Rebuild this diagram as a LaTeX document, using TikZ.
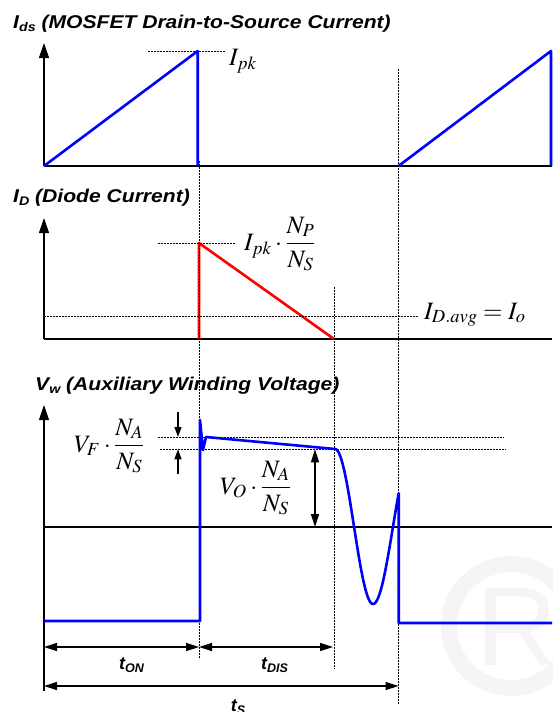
\documentclass[tikz,border=0pt]{standalone}
\usepackage{amsmath}
\usepackage{mathptmx}
\usepackage[no-math]{fontspec}
\setmainfont{Liberation Sans}
\newfontfamily\ttlfont[FakeStretch=1.14]{Liberation Sans}
\usetikzlibrary{arrows.meta}

\newcommand{\lowtxt}[1]{\raisebox{-3.5pt}{\fontsize{12.5}{12.5}\selectfont #1}}

\begin{document}
\begin{tikzpicture}[x=1pt, y=-1pt,
  axisline/.style={line width=1.2pt, -{Triangle[length=15pt,width=10pt]}},
  zeroline/.style={line width=1.2pt},
  guide/.style={line width=1pt, dash pattern=on 1.6pt off 1.4pt},
  wave/.style={line width=2.6pt, blue, line join=round},
  dwave/.style={line width=2.6pt, red, line join=round},
  dimline/.style={line width=1.2pt, {Triangle[length=13pt,width=8pt]}-{Triangle[length=13pt,width=8pt]}},
  vfarrow/.style={line width=1.2pt, -{Triangle[length=10pt,width=7pt]}},
  ttl/.style={anchor=base west, inner sep=0, font=\ttlfont\fontsize{18.5}{20}\selectfont\bfseries\itshape},
  lbl/.style={anchor=base west, inner sep=0, font=\fontsize{25}{28}\selectfont},
  tlbl/.style={anchor=base, inner sep=0, font=\fontsize{18}{20}\selectfont\bfseries\itshape}]
  \useasboundingbox (0,0) rectangle (552,712);
  \fill[white] (0,0) rectangle (552,712);

  % watermark
  \draw[black!4, line width=16pt] (511,626) circle[radius=62pt];
  \node[text=black!4, font=\fontsize{112}{112}\selectfont] (wmR) at (517,627) {R};

  % titles
  \node[ttl] (ttlA) at (13,28) {I\lowtxt{ds} (MOSFET Drain-to-Source Current)};
  \node[ttl] (ttlB) at (13,202) {I\lowtxt{D} (Diode Current)};
  \node[ttl] (ttlC) at (35,390) {V\lowtxt{w} (Auxiliary Winding Voltage)};

  % axes
  \draw[axisline] (44,166) -- (44,43);
  \draw[zeroline] (44,166) -- (552,166);
  \draw[axisline] (44,339) -- (44,218);
  \draw[zeroline] (44,339) -- (552,339);
  \draw[axisline] (44,691) -- (44,405);
  \draw[zeroline] (44,527) -- (552,527);

  % diode current
  \draw[dwave] (199,339) -- (199,243) -- (334,339);

  % guides
  \draw[guide] (148,51) -- (225,51);
  \draw[guide] (158,243) -- (235,243);
  \draw[guide] (44,316) -- (418,316);
  \draw[guide] (158,437) -- (504,437);
  \draw[guide] (160,449.3) -- (506,449.3);
  \draw[guide] (199,161) -- (199,659);
  \draw[guide] (334,287) -- (334,669);
  \draw[guide] (398.5,69) -- (398.5,704);

  % drain current
  \draw[wave] (44,166) -- (197.7,51) -- (197.7,166);
  \draw[wave] (398.5,166) -- (551,51) -- (551,166);

  % winding voltage
  \draw[wave] (44,621) -- (200,621) -- (200,420) -- (203,450) -- (206,437) -- (335,449)
    -- plot[domain=335:373, samples=40] (\x, {526.5-77.5*cos(180*(\x-335)/38)})
    -- plot[domain=373:398.7, samples=30] (\x, {526.6+77.4*cos(180*(\x-373)/40)})
    -- (398.7,623) -- (552,623);

  % labels
  \node[lbl] (ipk) at (229,65) {$I_{pk}$};
  \node[lbl] (ipkn) at (244,250) {$\displaystyle I_{pk}\cdot\frac{N_P}{N_S}$};
  \node[lbl] (idavg) at (424,319) {$I_{D.avg}=I_o$};
  \node[lbl] (vfn) at (74,452) {$\displaystyle V_F\cdot\frac{N_A}{N_S}$};
  \node[lbl] (von) at (220,494) {$\displaystyle V_O\cdot\frac{N_A}{N_S}$};

  % V_F marks
  \coordinate (vfa) at (178,412);
  \coordinate (vfb) at (178,437);
  \coordinate (vfc) at (178,474);
  \coordinate (vfd) at (178,449.3);
  \draw[vfarrow] (vfa) -- (vfb);
  \draw[vfarrow] (vfc) -- (vfd);

  % V_O span
  \coordinate (voa) at (315,449.3);
  \coordinate (vob) at (315,527);
  \draw[dimline] (voa) -- (vob);

  % time spans
  \coordinate (tz) at (44,647);
  \coordinate (ton) at (199,647);
  \coordinate (tdis) at (333,647);
  \coordinate (sz) at (44,686);
  \coordinate (ts) at (398.5,686);
  \draw[dimline] (tz) -- (ton);
  \draw[dimline] (ton) -- (tdis);
  \draw[dimline] (sz) -- (ts);
  \node[tlbl] (tonl) at (131.5,669) {t\lowtxt{ON}};
  \node[tlbl] (tdisl) at (274.5,669) {t\lowtxt{DIS}};
  \node[tlbl] (tsl) at (238,711) {t\lowtxt{S}};
\end{tikzpicture}
\end{document}
